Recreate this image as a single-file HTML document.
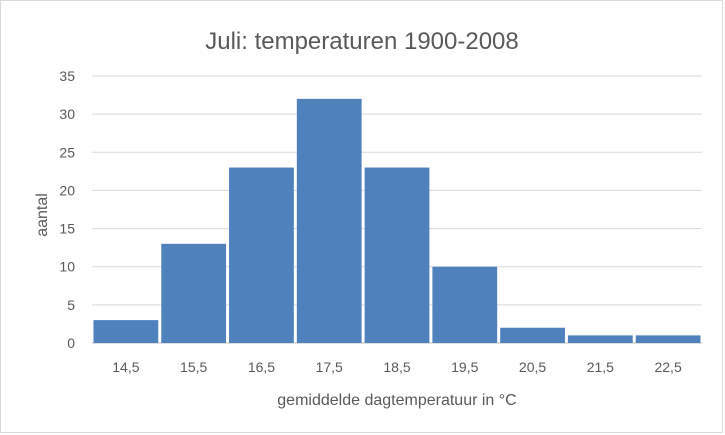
<!DOCTYPE html>
<html><head><meta charset="utf-8"><style>
body{margin:0;background:#fff;}
svg{display:block;font-family:"Liberation Sans",Calibri,sans-serif;}
</style></head><body>
<svg id="chart" width="725" height="435">
<rect x="0.5" y="0.5" width="722" height="432" fill="#fff" stroke="#d9d9d9"/>
<text x="362" y="49" text-anchor="middle" font-size="24" fill="#595959">Juli: temperaturen 1900-2008</text>
<g id="grid"></g><g id="bars"></g><g id="xlabels"></g><g id="ylabels"></g>
<text x="0" y="0" transform="translate(47,215) rotate(-90)" text-anchor="middle" font-size="16" fill="#595959">aantal</text>
<text x="397" y="405" text-anchor="middle" font-size="16" fill="#595959">gemiddelde dagtemperatuur in °C</text>
</svg>
<script>
const categories=["14,5","15,5","16,5","17,5","18,5","19,5","20,5","21,5","22,5"];
const values=[3,13,23,32,23,10,2,1,1];
const yTicks=[0,5,10,15,20,25,30,35];
const NS="http://www.w3.org/2000/svg";
const x0=92,x1=702,y0=343,yTop=76,yMax=35;
const y=v=>y0-(v/yMax)*(y0-yTop);
const bw=(x1-x0)/categories.length;
function mk(t,a,p){const e=document.createElementNS(NS,t);for(const k in a)e.setAttribute(k,a[k]);p.appendChild(e);return e;}
const g=document.getElementById('grid'),b=document.getElementById('bars'),xl=document.getElementById('xlabels'),yl=document.getElementById('ylabels');
yTicks.forEach(t=>{
 const l=mk('line',{x1:x0,x2:x1,y1:y(t),y2:y(t),stroke:t===0?'#bfbfbf':'#d9d9d9','stroke-width':1},g);
 
 
 const tx=mk('text',{x:75,y:y(t)+5,'text-anchor':'end','font-size':14,fill:'#595959'},yl);
 tx.textContent=t;
 
 
});
categories.forEach((c,i)=>{
 const r=mk('rect',{x:x0+i*bw+1.5,y:y(values[i]),width:bw-3,height:y0-y(values[i]),fill:'#4f81bd'},b);
 
 
 const tx=mk('text',{x:x0+i*bw+bw/2,y:372,'text-anchor':'middle','font-size':14,fill:'#595959'},xl);
 tx.textContent=c;
 
 
});
</script>
</body></html>
